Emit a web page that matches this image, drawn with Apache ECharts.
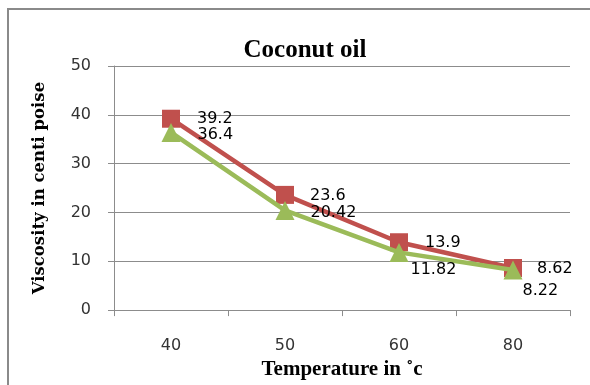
<!DOCTYPE html>
<html>
<head>
<meta charset="utf-8">
<script src="https://cdn.jsdelivr.net/npm/echarts@6/dist/echarts.min.js"></script>
<style>
  html, body { margin: 0; padding: 0; background: #ffffff; }
  #chart { width: 590px; height: 385px; }
</style>
</head>
<body>
<div id="chart"></div>
<script>
// Temperatures (°C) on the x axis
const temperatures = ['40', '50', '60', '80'];
// Viscosity readings (centipoise) for the two coconut oil samples
const seriesUpper = [39.2, 23.6, 13.9, 8.62];
const seriesLower = [36.4, 20.42, 11.82, 8.22];
// Label nudges [dx, dy] from the default right-of-marker spot
const upperLabelShift = [[17, 0], [16, 1], [17, 1], [15, 1]];
const lowerLabelShift = [[17, 2], [16, 2], [2, 17], [0, 21]];

const RED = '#C0504D';
const GREEN = '#9BBB59';
const GRID = '#8c8c8c';

function points(values, shifts) {
  return values.map((v, i) => ({
    value: v,
    label: { offset: shifts[i] }
  }));
}

const chart = echarts.init(document.getElementById('chart'), null, { renderer: 'canvas' });

chart.setOption({
  animation: false,
  backgroundColor: '#ffffff',
  title: {
    text: 'Coconut oil',
    left: 300,
    top: 33,
    textAlign: 'center',
    textStyle: {
      fontFamily: 'Liberation Serif',
      fontWeight: 'bold',
      fontSize: 25,
      color: '#000000'
    }
  },
  graphic: [{
    type: 'rect',
    shape: { x: 8, y: 9, width: 620, height: 420 },
    style: { fill: 'none', stroke: '#8a8a8a', lineWidth: 2 },
    silent: true,
    z: -1
  }],
  grid: { left: 114, right: 20, top: 66, bottom: 74 },
  xAxis: {
    type: 'category',
    data: temperatures,
    boundaryGap: true,
    name: 'Temperature in \u02DAc',
    nameLocation: 'middle',
    nameGap: 47,
    nameTextStyle: {
      fontFamily: 'Liberation Serif',
      fontWeight: 'bold',
      fontSize: 21,
      color: '#000000'
    },
    axisLine: { lineStyle: { color: GRID, width: 1 } },
    axisTick: { show: true, interval: 0, length: 6, lineStyle: { color: GRID } },
    axisLabel: {
      margin: 28,
      fontFamily: 'DejaVu Sans',
      fontSize: 16,
      color: '#333333'
    },
    splitLine: { show: false }
  },
  yAxis: {
    type: 'value',
    min: 0,
    max: 50,
    interval: 10,
    name: 'Viscosity in centi poise',
    nameLocation: 'middle',
    nameRotate: 90,
    nameGap: 66,
    nameTextStyle: {
      fontFamily: 'DejaVu Serif',
      fontWeight: 'bold',
      fontSize: 16.5,
      color: '#000000'
    },
    axisLine: { show: true, lineStyle: { color: GRID, width: 1 } },
    axisTick: { show: true, length: 6, lineStyle: { color: GRID } },
    axisLabel: {
      margin: 23,
      fontFamily: 'DejaVu Sans',
      fontSize: 16,
      color: '#333333'
    },
    splitLine: { show: true, lineStyle: { color: GRID, width: 1 } }
  },
  series: [
    {
      name: 'upper',
      type: 'line',
      data: points(seriesUpper, upperLabelShift),
      symbol: 'rect',
      symbolSize: 18,
      lineStyle: { color: RED, width: 4.5 },
      itemStyle: { color: RED },
      label: {
        show: true,
        position: 'right',
        distance: 0,
        fontFamily: 'DejaVu Sans',
        fontSize: 16,
        color: '#000000'
      },
      z: 2
    },
    {
      name: 'lower',
      type: 'line',
      data: points(seriesLower, lowerLabelShift),
      symbol: 'triangle',
      symbolSize: 19,
      lineStyle: { color: GREEN, width: 4.5 },
      itemStyle: { color: GREEN },
      label: {
        show: true,
        position: 'right',
        distance: 0,
        fontFamily: 'DejaVu Sans',
        fontSize: 16,
        color: '#000000'
      },
      z: 3
    }
  ]
});
</script>
</body>
</html>
